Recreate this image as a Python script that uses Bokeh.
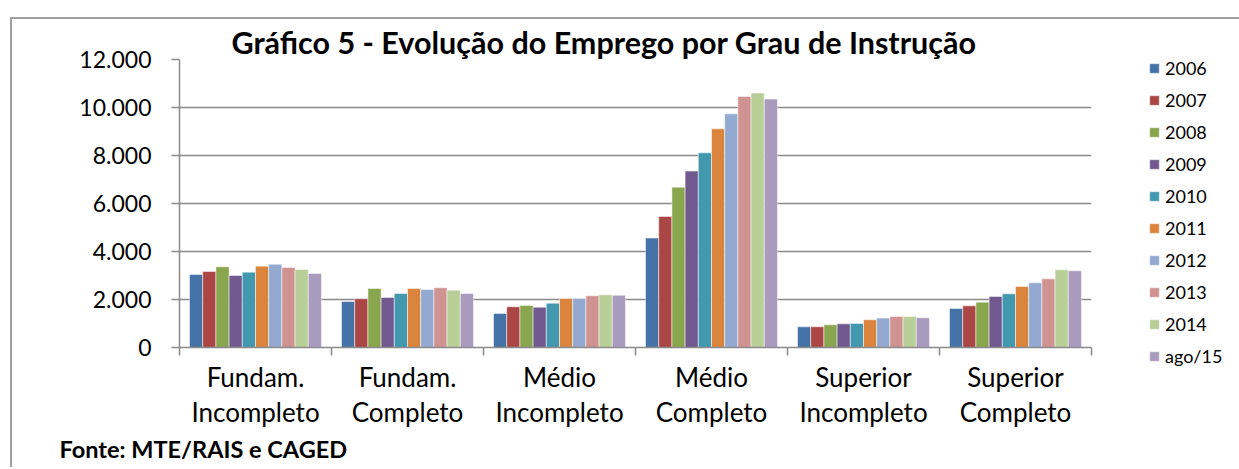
from bokeh.plotting import figure
from bokeh.models import (ColumnDataSource, Range1d, FixedTicker, Legend, LegendItem, Title)
from bokeh.transform import dodge
from bokeh.embed import file_html
from bokeh.resources import INLINE

categories = ["Fundam.\nIncompleto", "Fundam.\nCompleto", "Médio\nIncompleto",
              "Médio\nCompleto", "Superior\nIncompleto", "Superior\nCompleto"]
years = ["2006", "2007", "2008", "2009", "2010", "2011", "2012", "2013", "2014", "ago/15"]

v2006 = [3040, 1915, 1415, 4560, 862, 1625]
v2007 = [3165, 2030, 1695, 5460, 862, 1735]
v2008 = [3360, 2460, 1750, 6680, 945, 1890]
v2009 = [3000, 2085, 1680, 7350, 985, 2125]
v2010 = [3140, 2250, 1845, 8110, 1000, 2235]
v2011 = [3390, 2460, 2040, 9110, 1155, 2540]
v2012 = [3470, 2420, 2040, 9735, 1225, 2695]
v2013 = [3335, 2490, 2155, 10460, 1290, 2860]
v2014 = [3250, 2390, 2195, 10600, 1290, 3235]
vago15 = [3085, 2250, 2175, 10350, 1235, 3195]

series = [v2006, v2007, v2008, v2009, v2010, v2011, v2012, v2013, v2014, vago15]
colors = ["#4572A7", "#AA4643", "#89A54E", "#71588F", "#4198AF",
          "#DB843D", "#93A9CF", "#D19392", "#B9CD96", "#A99BBD"]

title_text = "Gráfico 5 - Evolução do Emprego por Grau de Instrução"
source_text = "Fonte: MTE/RAIS e CAGED"
y_ticks = [0, 2000, 4000, 6000, 8000, 10000, 12000]
y_tick_labels = ["0", "2.000", "4.000", "6.000", "8.000", "10.000", "12.000"]

FONT = "Lato"
GRID = "#8a8a8a"

n = len(categories)
data = {"x": [i + 0.5 for i in range(n)]}
for yr, vals in zip(years, series):
    data[yr] = vals
src = ColumnDataSource(data)

# figure host placed at (10,17), 2px css border on left/top -> canvas at (12,19)
p = figure(frame_width=912, frame_height=288, output_backend="svg", toolbar_location=None,
           x_range=Range1d(0, n), y_range=Range1d(0, 12000),
           min_border_left=167, min_border_right=141, min_border_top=40,
           min_border_bottom=120)
p.margin = (17, 0, 0, 10)
p.styles = {"border-left": "2px solid #a0a0a0", "border-top": "2px solid #a0a0a0"}
p.outline_line_color = None
p.background_fill_color = "white"
p.border_fill_color = "white"

bw = 0.0868
items = []
for j, (yr, col) in enumerate(zip(years, colors)):
    r = p.vbar(x=dodge("x", (j - 4.5) * bw, range=p.x_range), top=yr, width=bw,
               source=src, fill_color=col, line_color="white", line_width=0.7,
               line_alpha=0.7)
    items.append(LegendItem(label=yr, renderers=[r]))

# title
p.title.text = title_text
p.title.text_font = FONT
p.title.text_font_style = "bold"
p.title.text_font_size = "30.5px"
p.title.text_color = "black"
p.title.align = "left"
p.title.offset = 52
p.title.standoff = 0

# axes
p.xgrid.visible = False
p.ygrid.grid_line_color = GRID
p.ygrid.grid_line_width = 1.5
p.ygrid.ticker = FixedTicker(ticks=y_ticks)

yax = p.yaxis[0]
yax.ticker = FixedTicker(ticks=y_ticks)
yax.major_label_overrides = dict(zip(y_ticks, y_tick_labels))
yax.axis_line_color = GRID
yax.axis_line_width = 1.5
yax.major_tick_line_color = GRID
yax.major_tick_line_width = 1.5
yax.major_tick_out = 8
yax.major_tick_in = 0
yax.minor_tick_line_color = None
yax.major_label_text_font = FONT
yax.major_label_text_font_size = "23px"
yax.major_label_text_color = "black"
yax.major_label_standoff = 20

xax = p.xaxis[0]
xax.ticker = FixedTicker(ticks=[i + 0.5 for i in range(n)], minor_ticks=list(range(n + 1)))
xax.major_label_overrides = {i + 0.5: c for i, c in enumerate(categories)}
xax.axis_line_color = GRID
xax.axis_line_width = 1.5
xax.major_tick_line_color = None
xax.major_tick_out = 0
xax.major_tick_in = 0
xax.minor_tick_line_color = GRID
xax.minor_tick_line_width = 1.5
xax.minor_tick_out = 8
xax.minor_tick_in = 0
xax.major_label_text_font = FONT
xax.major_label_text_font_size = "26px"
xax.major_label_text_color = "black"
xax.major_label_text_line_height = 1.12
xax.major_label_standoff = 5

legend = Legend(items=items, location=(57, -20), orientation="vertical",
                glyph_width=12, glyph_height=12, label_text_font=FONT,
                label_text_font_size="18px", label_text_color="black",
                label_standoff=5, spacing=10, padding=0, margin=0,
                border_line_color=None, background_fill_alpha=0)
p.add_layout(legend, "right")

fonte = Title(text=source_text, align="left", offset=-120, standoff=3,
              text_font=FONT, text_font_style="bold", text_font_size="23.5px",
              text_color="black")
p.add_layout(fonte, "below")

open("out.html", "w").write(file_html(p, INLINE))
